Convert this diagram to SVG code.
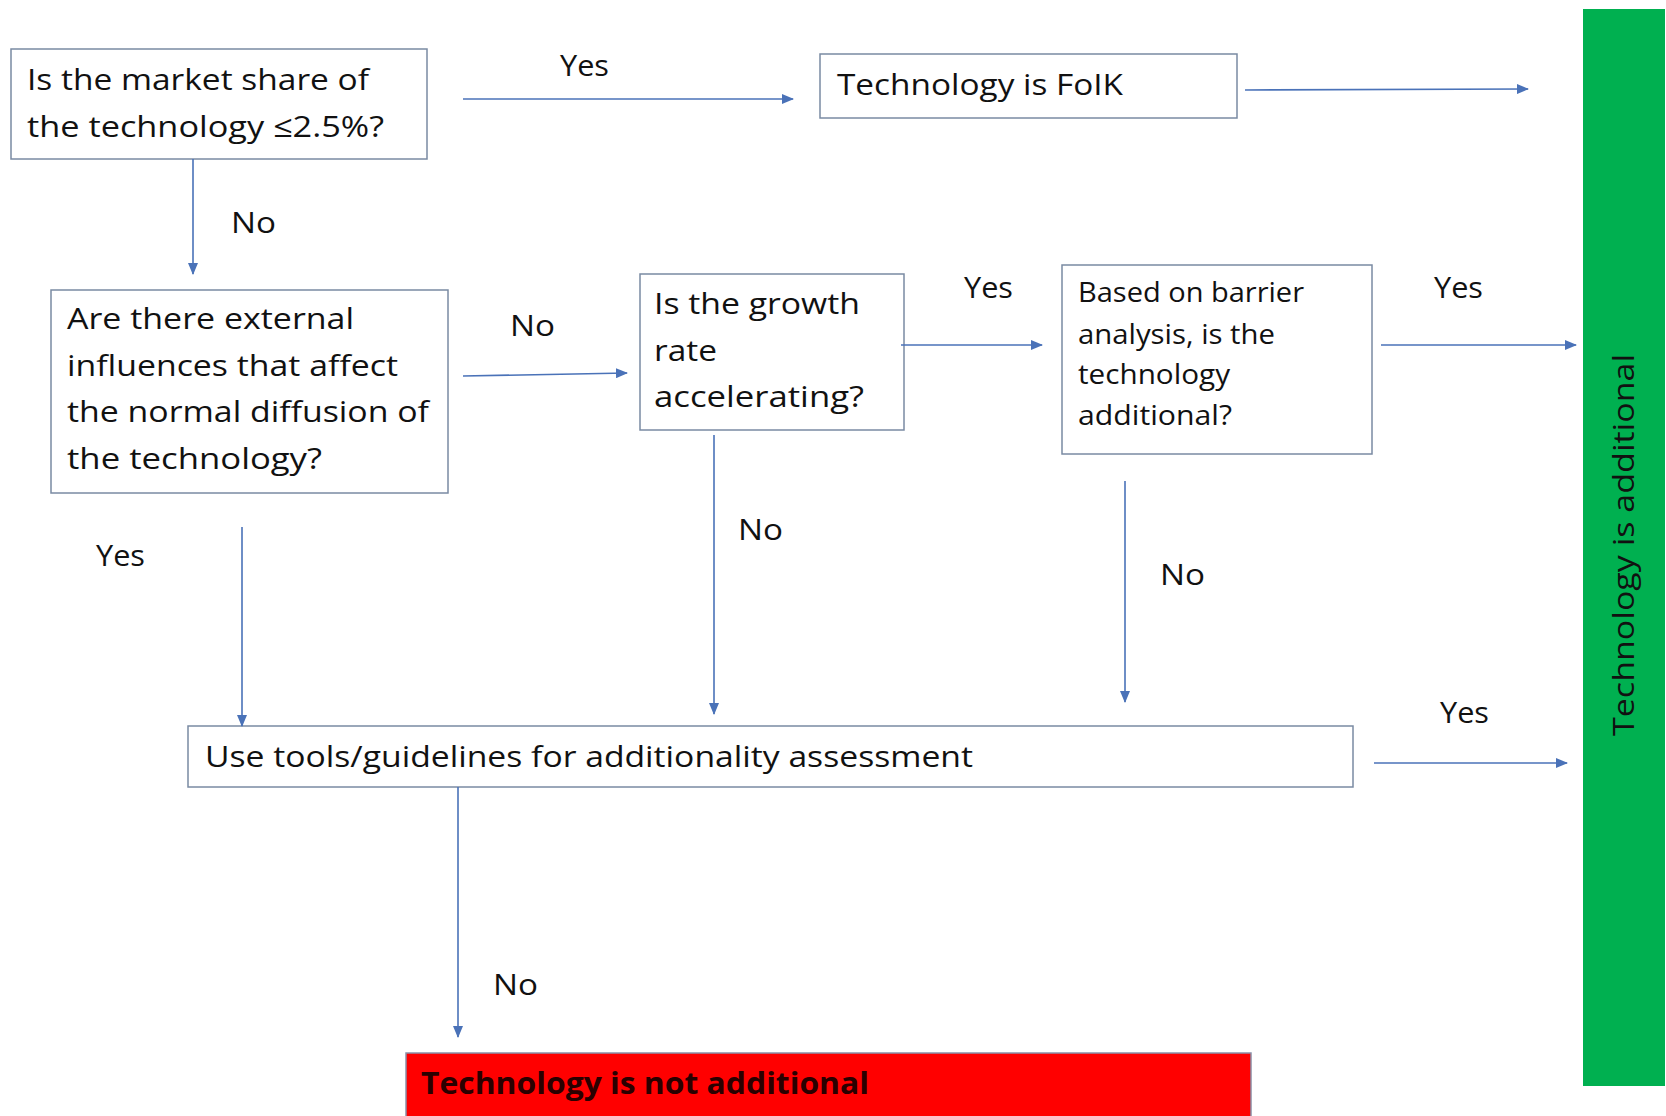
<svg xmlns="http://www.w3.org/2000/svg" width="1666" height="1116" viewBox="0 0 1666 1116">
<style>
.box{fill:#fff;stroke:#7a8aa3;stroke-width:1.5}
.t{font-family:"Open Sans","Noto Sans",sans-serif;font-size:30px;fill:#111}
.s{font-family:"Open Sans","Noto Sans",sans-serif;font-size:27px;fill:#111}
.lbl{font-family:"Open Sans","Noto Sans",sans-serif;font-size:29px;fill:#111}
.c{fill:none;stroke:#4a72b8;stroke-width:1.6}
</style>
<defs>
<marker id="ah" markerUnits="userSpaceOnUse" markerWidth="12" markerHeight="10" refX="11" refY="5" orient="auto">
<path d="M0,0 L12,5 L0,10 Z" fill="#4a72b8"/>
</marker>
</defs>
<rect width="1666" height="1116" fill="#fff"/>

<g id="green">
<rect x="1583" y="9" width="82" height="1077" fill="#00b050"/>
<text class="t" transform="translate(1634,545) rotate(-90)" text-anchor="middle" textLength="382" lengthAdjust="spacingAndGlyphs">Technology is additional</text>
</g>

<g id="n1">
<rect class="box" x="11" y="49" width="416" height="110"/>
<text class="t" x="27" y="90" textLength="342" lengthAdjust="spacingAndGlyphs">Is the market share of</text>
<text class="t" x="27" y="137" textLength="357" lengthAdjust="spacingAndGlyphs">the technology ≤2.5%?</text>
</g>

<g id="n2">
<rect class="box" x="820" y="54" width="417" height="64"/>
<text class="t" x="837" y="95" textLength="286" lengthAdjust="spacingAndGlyphs">Technology is FoIK</text>
</g>

<g id="n3">
<rect class="box" x="51" y="290" width="397" height="203"/>
<text class="t" x="67" y="329" textLength="287" lengthAdjust="spacingAndGlyphs">Are there external</text>
<text class="t" x="67" y="376" textLength="331" lengthAdjust="spacingAndGlyphs">influences that affect</text>
<text class="t" x="67" y="422" textLength="362" lengthAdjust="spacingAndGlyphs">the normal diffusion of</text>
<text class="t" x="67" y="469" textLength="255" lengthAdjust="spacingAndGlyphs">the technology?</text>
</g>

<g id="n4">
<rect class="box" x="640" y="274" width="264" height="156"/>
<text class="t" x="654" y="314" textLength="206" lengthAdjust="spacingAndGlyphs">Is the growth</text>
<text class="t" x="654" y="361" textLength="63" lengthAdjust="spacingAndGlyphs">rate</text>
<text class="t" x="654" y="407" textLength="210" lengthAdjust="spacingAndGlyphs">accelerating?</text>
</g>

<g id="n5">
<rect class="box" x="1062" y="265" width="310" height="189"/>
<text class="s" x="1078" y="302" textLength="226" lengthAdjust="spacingAndGlyphs">Based  on barrier</text>
<text class="s" x="1078" y="344" textLength="197" lengthAdjust="spacingAndGlyphs">analysis, is the</text>
<text class="s" x="1078" y="384" textLength="152" lengthAdjust="spacingAndGlyphs">technology</text>
<text class="s" x="1078" y="425" textLength="154" lengthAdjust="spacingAndGlyphs">additional?</text>
</g>

<g id="n6">
<rect class="box" x="188" y="726" width="1165" height="61"/>
<text class="t" x="205" y="767" textLength="768" lengthAdjust="spacingAndGlyphs">Use tools/guidelines for additionality assessment</text>
</g>

<g id="n7">
<rect x="406" y="1053" width="845" height="70" fill="#ff0000" stroke="#8a90a8" stroke-width="1.5"/>
<text x="421" y="1094" font-family="'Open Sans','Noto Sans',sans-serif" font-size="30" font-weight="bold" fill="#2a0000" textLength="448" lengthAdjust="spacingAndGlyphs">Technology is not additional</text>
</g>

<g id="connectors">
<line class="c" x1="463" y1="99" x2="793" y2="99" marker-end="url(#ah)"/>
<line class="c" x1="1245" y1="90" x2="1528" y2="89" marker-end="url(#ah)"/>
<line class="c" x1="193" y1="159" x2="193" y2="274" marker-end="url(#ah)"/>
<line class="c" x1="463" y1="376" x2="627" y2="373" marker-end="url(#ah)"/>
<line class="c" x1="901" y1="345" x2="1042" y2="345" marker-end="url(#ah)"/>
<line class="c" x1="1381" y1="345" x2="1576" y2="345" marker-end="url(#ah)"/>
<line class="c" x1="242" y1="527" x2="242" y2="726" marker-end="url(#ah)"/>
<line class="c" x1="714" y1="435" x2="714" y2="714" marker-end="url(#ah)"/>
<line class="c" x1="1125" y1="481" x2="1125" y2="702" marker-end="url(#ah)"/>
<line class="c" x1="1374" y1="763" x2="1567" y2="763" marker-end="url(#ah)"/>
<line class="c" x1="458" y1="787" x2="458" y2="1037" marker-end="url(#ah)"/>
</g>

<g id="labels">
<text class="lbl" x="560" y="76" textLength="49" lengthAdjust="spacingAndGlyphs">Yes</text>
<text class="lbl" x="231" y="233" textLength="45" lengthAdjust="spacingAndGlyphs">No</text>
<text class="lbl" x="510" y="336" textLength="45" lengthAdjust="spacingAndGlyphs">No</text>
<text class="lbl" x="964" y="298" textLength="49" lengthAdjust="spacingAndGlyphs">Yes</text>
<text class="lbl" x="1434" y="298" textLength="49" lengthAdjust="spacingAndGlyphs">Yes</text>
<text class="lbl" x="96" y="566" textLength="49" lengthAdjust="spacingAndGlyphs">Yes</text>
<text class="lbl" x="738" y="540" textLength="45" lengthAdjust="spacingAndGlyphs">No</text>
<text class="lbl" x="1160" y="585" textLength="45" lengthAdjust="spacingAndGlyphs">No</text>
<text class="lbl" x="1440" y="723" textLength="49" lengthAdjust="spacingAndGlyphs">Yes</text>
<text class="lbl" x="493" y="995" textLength="45" lengthAdjust="spacingAndGlyphs">No</text>
</g>
</svg>
